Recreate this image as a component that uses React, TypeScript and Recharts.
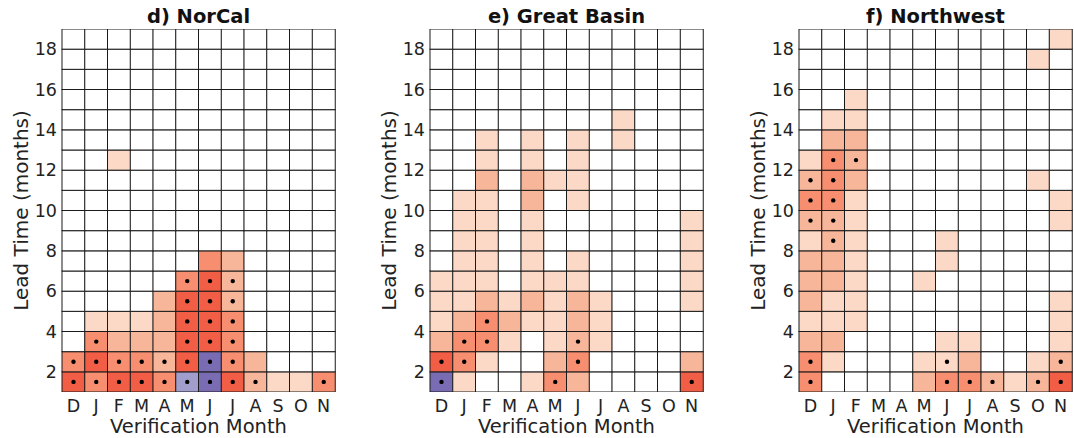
import { BarChart, Bar, XAxis, YAxis } from "recharts";

// verification months, Dec..Nov
const monthKeys = ["Dec", "Jan", "Feb", "Mar", "Apr", "May", "Jun", "Jul", "Aug", "Sep", "Oct", "Nov"];
const monthLabels = ["D", "J", "F", "M", "A", "M", "J", "J", "A", "S", "O", "N"];
const leads = [1, 2, 3, 4, 5, 6, 7, 8, 9, 10, 11, 12, 13, 14, 15, 16, 17, 18];
const leadTicks = [2, 4, 6, 8, 10, 12, 14, 16, 18];

// skill class per cell: 0 none, 1..4 increasing positive, -1/-2 negative
// one row per lead time (1 at the top of the list), one column per month
const norcalLevels = [
  [4, 3, 4, 4, 3, -1, -2, 4, 2, 1, 1, 3],
  [3, 4, 3, 3, 2, 4, -2, 3, 2, 0, 0, 0],
  [0, 3, 2, 2, 2, 4, 4, 3, 0, 0, 0, 0],
  [0, 1, 1, 1, 2, 4, 4, 3, 0, 0, 0, 0],
  [0, 0, 0, 0, 2, 4, 4, 2, 0, 0, 0, 0],
  [0, 0, 0, 0, 0, 3, 4, 2, 0, 0, 0, 0],
  [0, 0, 0, 0, 0, 0, 3, 2, 0, 0, 0, 0],
  [0, 0, 0, 0, 0, 0, 0, 0, 0, 0, 0, 0],
  [0, 0, 0, 0, 0, 0, 0, 0, 0, 0, 0, 0],
  [0, 0, 0, 0, 0, 0, 0, 0, 0, 0, 0, 0],
  [0, 0, 0, 0, 0, 0, 0, 0, 0, 0, 0, 0],
  [0, 0, 1, 0, 0, 0, 0, 0, 0, 0, 0, 0],
  [0, 0, 0, 0, 0, 0, 0, 0, 0, 0, 0, 0],
  [0, 0, 0, 0, 0, 0, 0, 0, 0, 0, 0, 0],
  [0, 0, 0, 0, 0, 0, 0, 0, 0, 0, 0, 0],
  [0, 0, 0, 0, 0, 0, 0, 0, 0, 0, 0, 0],
  [0, 0, 0, 0, 0, 0, 0, 0, 0, 0, 0, 0],
  [0, 0, 0, 0, 0, 0, 0, 0, 0, 0, 0, 0],
];
// significant months (column index) per lead time
const norcalDots = [
  [0, 1, 2, 3, 4, 5, 6, 7, 8, 11],
  [0, 1, 2, 3, 4, 5, 6, 7],
  [1, 5, 6, 7],
  [5, 6, 7],
  [5, 6, 7],
  [5, 6, 7],
  [], [], [], [], [], [], [], [], [], [], [], [],
];

const basinLevels = [
  [-2, 1, 0, 0, 1, 3, 2, 0, 0, 0, 0, 4],
  [4, 3, 1, 0, 0, 2, 3, 0, 0, 0, 0, 2],
  [2, 3, 3, 1, 0, 1, 2, 1, 0, 0, 0, 0],
  [1, 2, 3, 2, 1, 1, 2, 1, 0, 0, 0, 0],
  [1, 1, 2, 1, 2, 1, 2, 1, 0, 0, 0, 1],
  [1, 1, 1, 0, 1, 1, 1, 0, 0, 0, 0, 1],
  [0, 1, 1, 0, 1, 0, 1, 0, 0, 0, 0, 1],
  [0, 1, 1, 0, 1, 0, 0, 0, 0, 0, 0, 1],
  [0, 1, 1, 0, 1, 0, 0, 0, 0, 0, 0, 1],
  [0, 1, 1, 0, 2, 0, 1, 0, 0, 0, 0, 0],
  [0, 0, 2, 0, 2, 1, 1, 0, 0, 0, 0, 0],
  [0, 0, 1, 0, 1, 0, 1, 0, 0, 0, 0, 0],
  [0, 0, 1, 0, 1, 0, 1, 0, 1, 0, 0, 0],
  [0, 0, 0, 0, 0, 0, 0, 0, 1, 0, 0, 0],
  [0, 0, 0, 0, 0, 0, 0, 0, 0, 0, 0, 0],
  [0, 0, 0, 0, 0, 0, 0, 0, 0, 0, 0, 0],
  [0, 0, 0, 0, 0, 0, 0, 0, 0, 0, 0, 0],
  [0, 0, 0, 0, 0, 0, 0, 0, 0, 0, 0, 0],
];
const basinDots = [
  [0, 5, 11],
  [0, 1, 6],
  [1, 2, 6],
  [2],
  [], [], [], [], [], [], [], [], [], [], [], [], [], [],
];

const northwestLevels = [
  [3, 0, 0, 0, 0, 2, 3, 3, 2, 1, 2, 4],
  [3, 1, 0, 0, 0, 1, 1, 2, 0, 0, 1, 2],
  [2, 2, 0, 0, 0, 0, 1, 1, 0, 0, 0, 1],
  [1, 1, 1, 0, 0, 0, 0, 0, 0, 0, 0, 1],
  [2, 1, 1, 0, 0, 0, 0, 0, 0, 0, 0, 1],
  [2, 2, 1, 0, 0, 1, 0, 0, 0, 0, 0, 0],
  [2, 2, 1, 0, 0, 0, 1, 0, 0, 0, 0, 0],
  [1, 2, 1, 0, 0, 0, 1, 0, 0, 0, 0, 0],
  [2, 2, 1, 0, 0, 0, 0, 0, 0, 0, 0, 1],
  [3, 3, 1, 0, 0, 0, 0, 0, 0, 0, 0, 1],
  [2, 3, 2, 0, 0, 0, 0, 0, 0, 0, 1, 0],
  [1, 3, 2, 0, 0, 0, 0, 0, 0, 0, 0, 0],
  [0, 2, 2, 0, 0, 0, 0, 0, 0, 0, 0, 0],
  [0, 1, 1, 0, 0, 0, 0, 0, 0, 0, 0, 0],
  [0, 0, 1, 0, 0, 0, 0, 0, 0, 0, 0, 0],
  [0, 0, 0, 0, 0, 0, 0, 0, 0, 0, 0, 0],
  [0, 0, 0, 0, 0, 0, 0, 0, 0, 0, 1, 0],
  [0, 0, 0, 0, 0, 0, 0, 0, 0, 0, 0, 1],
];
const northwestDots = [
  [0, 6, 7, 8, 10, 11],
  [0, 6, 11],
  [], [], [], [], [],
  [1],
  [0, 1],
  [0, 1],
  [0, 1],
  [1, 2],
  [], [], [], [], [], [],
];

const cellColors: Record<number, string> = {
  [-2]: "#7a6cb3",
  [-1]: "#a19ecd",
  0: "#ffffff",
  1: "#fcd9c6",
  2: "#f7b59a",
  3: "#f68e6f",
  4: "#f15d45",
};

const FONT = "'DejaVu Sans', sans-serif";
const TEXT = "#222";
const CHART_W = 337;
const CHART_H = 438;
const AXIS_W = 62;

const panels = [
  { title: "d) NorCal", left: 0, levels: norcalLevels, dots: norcalDots },
  { title: "e) Great Basin", left: 368, levels: basinLevels, dots: basinDots },
  { title: "f) Northwest", left: 737, levels: northwestLevels, dots: northwestDots },
];

// every month column stacks an offset block (below the axis) plus one unit block per lead
const rows = monthKeys.map((key) => {
  const row: Record<string, string | number> = { key, base: 1 };
  leads.forEach((l) => {
    row[`l${l}`] = 1;
  });
  return row;
});

const cellShape = (levels: number[][], dots: number[][], lead: number) => (props: any) => {
  const { x, y, width, height, index } = props;
  const level = levels[lead - 1][index];
  const sig = dots[lead - 1].includes(index);
  return (
    <g>
      <rect x={x} y={y} width={width} height={height} fill={cellColors[level]} stroke="#1a1a1a" strokeWidth={1} />
      {sig && <circle cx={x + width / 2} cy={y + height / 2} r={2.2} fill="#000" />}
    </g>
  );
};

function Panel({ title, left, levels, dots }: (typeof panels)[number]) {
  return (
    <div style={{ position: "absolute", left, top: 0, width: CHART_W, height: CHART_H }}>
      <div
        style={{
          position: "absolute",
          left: AXIS_W,
          top: 4,
          width: CHART_W - AXIS_W - 2,
          height: 26,
          lineHeight: "26px",
          textAlign: "center",
          fontFamily: FONT,
          fontWeight: "bold",
          fontSize: 19.5,
          color: "#111",
        }}
      >
        {title}
      </div>
      <BarChart
        width={CHART_W}
        height={CHART_H}
        data={rows}
        margin={{ top: 29, right: 2, bottom: 0, left: 0 }}
        barCategoryGap={0}
        barGap={0}
      >
        <XAxis
          dataKey="key"
          height={46}
          axisLine={false}
          tickLine={false}
          tickSize={0}
          tickMargin={8}
          interval={0}
          tickFormatter={(v: string) => monthLabels[monthKeys.indexOf(v)]}
          tick={{ fontSize: 17.5, fill: TEXT, fontFamily: FONT }}
          label={{
            content: ({ viewBox }: any) => (
              <text
                x={viewBox.x + viewBox.width / 2}
                y={viewBox.y + 34}
                textAnchor="middle"
                dominantBaseline="central"
                fontSize={19.5}
                fontFamily={FONT}
                fill={TEXT}
              >
                Verification Month
              </text>
            ),
          }}
        />
        <YAxis
          type="number"
          domain={[1, 19]}
          ticks={leadTicks}
          allowDataOverflow
          width={AXIS_W}
          axisLine={false}
          tickLine={false}
          tickSize={0}
          tickMargin={5}
          tick={{ fontSize: 17.5, fill: TEXT, fontFamily: FONT }}
          label={{
            content: ({ viewBox }: any) => {
              const cx = viewBox.x + 21;
              const cy = viewBox.y + viewBox.height / 2;
              return (
                <text
                  x={cx}
                  y={cy}
                  transform={`rotate(-90 ${cx} ${cy})`}
                  textAnchor="middle"
                  dominantBaseline="central"
                  fontSize={20}
                  fontFamily={FONT}
                  fill={TEXT}
                >
                  Lead Time (months)
                </text>
              );
            },
          }}
        />
        <Bar dataKey="base" stackId="c" fill="none" isAnimationActive={false} />
        {leads.map((l) => (
          <Bar
            key={l}
            dataKey={`l${l}`}
            stackId="c"
            isAnimationActive={false}
            shape={cellShape(levels, dots, l)}
          />
        ))}
      </BarChart>
    </div>
  );
}

export default function App() {
  return (
    <div style={{ position: "absolute", left: 0, top: 0, width: 1074, height: 438, background: "#fff" }}>
      {panels.map((p) => (
        <Panel key={p.title} {...p} />
      ))}
    </div>
  );
}
